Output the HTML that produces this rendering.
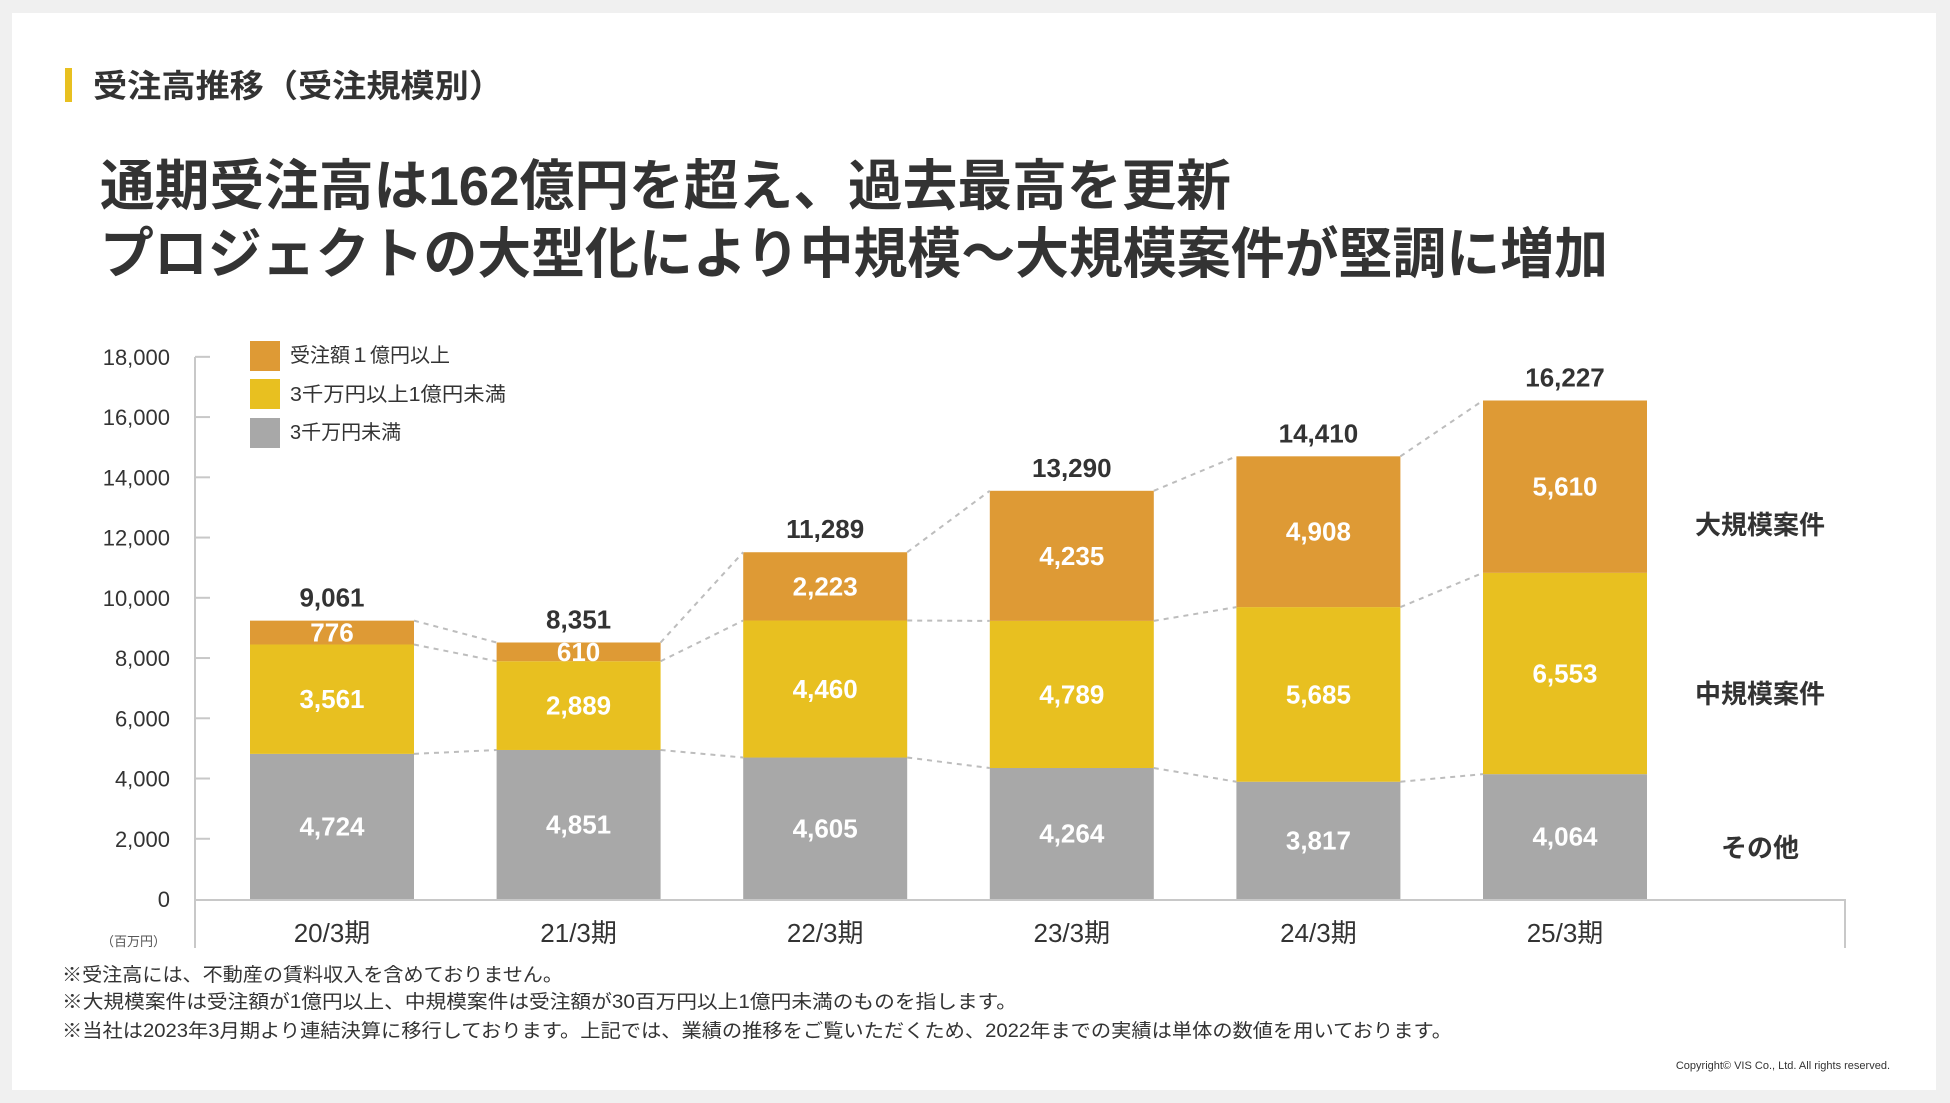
<!DOCTYPE html>
<html><head><meta charset="utf-8">
<style>
html,body{margin:0;padding:0;background:#f0f0f0;}
body{width:1950px;height:1103px;overflow:hidden;font-family:"Liberation Sans","Noto Sans CJK JP",sans-serif;}
svg{display:block;}
</style></head>
<body>
<svg id="chart" width="1950" height="1103" viewBox="0 0 1950 1103" xmlns="http://www.w3.org/2000/svg" font-family="Liberation Sans, Noto Sans CJK JP, sans-serif">
<rect x="0" y="0" width="1950" height="1103" fill="#f0f0f0"/>
<rect x="12" y="13" width="1924" height="1077" fill="#ffffff"/>
<rect x="65" y="68" width="7" height="34" fill="#e8c020"/>
<text x="93" y="97" font-size="32" font-weight="bold" fill="#333" textLength="410" lengthAdjust="spacingAndGlyphs">受注高推移（受注規模別）</text>
<text x="100" y="205" font-size="55" font-weight="bold" fill="#333" textLength="1131" lengthAdjust="spacingAndGlyphs">通期受注高は162億円を超え、過去最高を更新</text>
<text x="100" y="273" font-size="55" font-weight="bold" fill="#333" textLength="1508" lengthAdjust="spacingAndGlyphs">プロジェクトの大型化により中規模～大規模案件が堅調に増加</text>
<g id="axes"></g>
<g id="marks"></g>
<g id="legend">
<rect x="250" y="341" width="30" height="30" fill="#de9a35"/>
<text x="290" y="362" font-size="20" fill="#333">受注額１億円以上</text>
<rect x="250" y="379" width="30" height="30" fill="#e8c020"/>
<text x="290" y="401" font-size="20" fill="#333" textLength="216" lengthAdjust="spacingAndGlyphs">3千万円以上1億円未満</text>
<rect x="250" y="418" width="30" height="30" fill="#a8a8a8"/>
<text x="290" y="439" font-size="20" fill="#333">3千万円未満</text>
</g>
<text x="1760" y="534" font-size="26" font-weight="bold" fill="#333" text-anchor="middle">大規模案件</text>
<text x="1760" y="703" font-size="26" font-weight="bold" fill="#333" text-anchor="middle">中規模案件</text>
<text x="1760" y="857" font-size="26" font-weight="bold" fill="#333" text-anchor="middle">その他</text>
<text x="166" y="946" font-size="13" fill="#555" text-anchor="end">（百万円）</text>
<text x="62" y="981" font-size="19" fill="#333" textLength="501" lengthAdjust="spacingAndGlyphs">※受注高には、不動産の賃料収入を含めておりません。</text>
<text x="62" y="1008" font-size="19" fill="#333" textLength="955" lengthAdjust="spacingAndGlyphs">※大規模案件は受注額が1億円以上、中規模案件は受注額が30百万円以上1億円未満のものを指します。</text>
<text x="62" y="1037" font-size="19" fill="#333" textLength="1390" lengthAdjust="spacingAndGlyphs">※当社は2023年3月期より連結決算に移行しております。上記では、業績の推移をご覧いただくため、2022年までの実績は単体の数値を用いております。</text>
<text x="1890" y="1069" font-size="11" fill="#333" text-anchor="end">Copyright© VIS Co., Ltd. All rights reserved.</text>
</svg>
<script>
const categories = ["20/3期","21/3期","22/3期","23/3期","24/3期","25/3期"];
const smallValues = [4724,4851,4605,4264,3817,4064];
const mediumValues = [3561,2889,4460,4789,5685,6553];
const largeValues = [776,610,2223,4235,4908,5610];
const totals = [9061,8351,11289,13290,14410,16227];
const yTicks = [0,2000,4000,6000,8000,10000,12000,14000,16000,18000];
const tickLabels = ["0","2,000","4,000","6,000","8,000","10,000","12,000","14,000","16,000","18,000"];

const NS="http://www.w3.org/2000/svg";
const baseY=899, axisX=195;
function yAxis(v){return baseY - v*0.03012;}
function yBar(v){return baseY - v*0.03072;}
function xCenter(i){return 332 + i*246.6;}
const barW=164;
function mk(tag,attrs,parent){const e=document.createElementNS(NS,tag);for(const k in attrs)e.setAttribute(k,attrs[k]);parent.appendChild(e);return e;}
function fmt(n){return n.toLocaleString("en-US");}
const axes=document.getElementById("axes"), marks=document.getElementById("marks");

let l=mk("line",{x1:axisX,y1:357,x2:axisX,y2:948,stroke:"#c8c8c8","stroke-width":2},axes);


l=mk("line",{x1:axisX,y1:baseY+1,x2:1845,y2:baseY+1,stroke:"#c8c8c8","stroke-width":2},axes);


l=mk("line",{x1:1845,y1:baseY,x2:1845,y2:948,stroke:"#c8c8c8","stroke-width":2},axes);


yTicks.forEach((v,i)=>{
  const y=yAxis(v);
  if(v>0){const t=mk("line",{x1:axisX,y1:y,x2:axisX+15,y2:y,stroke:"#c8c8c8","stroke-width":2},axes);
  
  }
  const tx=mk("text",{x:170,y:y+8,"font-size":22,fill:"#333","text-anchor":"end"},axes);
  tx.textContent=tickLabels[i];
  
  
});

const series=[{v:smallValues,c:"#a8a8a8",n:"small"},{v:mediumValues,c:"#e8c020",n:"medium"},{v:largeValues,c:"#de9a35",n:"large"}];
const bounds=categories.map(()=>[]);
categories.forEach((cat,i)=>{
  let acc=0;const xc=xCenter(i);
  series.forEach(s=>{
    const v=s.v[i];const y0=yBar(acc),y1=yBar(acc+v);
    const r=mk("rect",{x:xc-barW/2,y:y1,width:barW,height:y0-y1,fill:s.c},marks);
    
    
    const t=mk("text",{x:xc,y:(y0+y1)/2+9,"font-size":26,"font-weight":"bold",fill:"#fff","text-anchor":"middle"},marks);
    t.textContent=fmt(v);
    
    
    acc+=v;bounds[i].push(y1);
  });
  const tt=mk("text",{x:xc,y:yBar(acc)-14,"font-size":26,"font-weight":"bold",fill:"#333","text-anchor":"middle"},marks);
  tt.textContent=fmt(totals[i]);
  
  
  const cl=mk("text",{x:xc,y:942,"font-size":26,fill:"#333","text-anchor":"middle"},marks);
  cl.textContent=cat;
  
  
});
for(let i=0;i<categories.length-1;i++){
  for(let k=0;k<3;k++){
    const d=mk("line",{x1:xCenter(i)+barW/2,y1:bounds[i][k],x2:xCenter(i+1)-barW/2,y2:bounds[i+1][k],stroke:"#bdbdbd","stroke-width":2,"stroke-dasharray":"5 5"},marks);
    
    
  }
}
</script>
</body></html>
